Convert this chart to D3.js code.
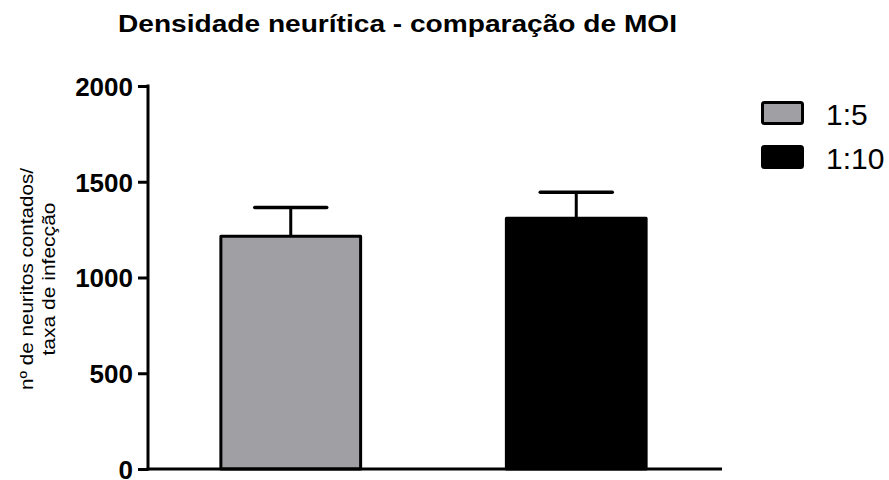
<!DOCTYPE html>
<html>
<head>
<meta charset="utf-8">
<script src="https://cdn.jsdelivr.net/npm/d3@7/dist/d3.min.js"></script>
<style>
  html, body { margin: 0; padding: 0; background: #fff; }
  svg { display: block; font-family: "Liberation Sans", Arial, sans-serif; }
</style>
</head>
<body>
<svg id="chart" width="889" height="480"></svg>
<script>
// Data: neurite density per MOI group (mean and SEM)
const groups = ["1:5", "1:10"];
const means = [1215, 1310];
const errors = [150, 135];
const fills = ["#a09fa4", "#000000"];
const yTicks = [0, 500, 1000, 1500, 2000];

const svg = d3.select("#chart");

const x = d3.scaleBand()
  .domain(groups)
  .range([148, 719])
  .paddingInner(0.5)
  .paddingOuter(0.25);

const y = d3.scaleLinear()
  .domain([0, 2000])
  .range([469, 86]);

// Title
svg.append("text")
  .attr("x", 118)
  .attr("y", 32)
  .attr("font-size", 23)
  .attr("font-weight", "bold")
  .attr("textLength", 559)
  .attr("lengthAdjust", "spacingAndGlyphs")
  .text("Densidade neurítica - comparação de MOI");

// Error bars (drawn first so the bar outline covers the stem base)
const eb = svg.append("g");
groups.forEach((g, i) => {
  const cx = x(g) + x.bandwidth() / 2;
  eb.append("line")
    .attr("x1", cx).attr("x2", cx)
    .attr("y1", y(means[i])).attr("y2", y(means[i] + errors[i]))
    .attr("stroke", "#000").attr("stroke-width", 3);
  eb.append("line")
    .attr("x1", cx - 36).attr("x2", cx + 36)
    .attr("y1", y(means[i] + errors[i])).attr("y2", y(means[i] + errors[i]))
    .attr("stroke", "#000").attr("stroke-width", 3.5)
    .attr("stroke-linecap", "round");
});

// Bars
svg.append("g").selectAll("rect")
  .data(groups)
  .join("rect")
  .attr("x", (d) => x(d) + 1.5)
  .attr("y", (d, i) => y(means[i]))
  .attr("width", x.bandwidth() - 3)
  .attr("height", (d, i) => y(0) - y(means[i]))
  .attr("fill", (d, i) => fills[i])
  .attr("stroke", "#000")
  .attr("stroke-width", 3)
  .attr("stroke-linejoin", "round");

// Y axis
const yAxis = d3.axisLeft(y)
  .tickValues(yTicks)
  .tickSize(10)
  .tickPadding(5)
  .tickFormat(d3.format("d"));

const ya = svg.append("g")
  .attr("transform", "translate(148,0)")
  .call(yAxis);
ya.select(".domain").remove();
ya.append("line")
  .attr("x1", 0).attr("x2", 0)
  .attr("y1", y(2000) - 1.5).attr("y2", y(0) + 1.5)
  .attr("stroke", "#000").attr("stroke-width", 3);
ya.selectAll(".tick line").attr("stroke", "#000").attr("stroke-width", 3);
ya.selectAll(".tick text")
  .attr("fill", "#000")
  .attr("font-size", 26)
  .attr("font-weight", "bold")
  .attr("font-family", "Liberation Sans, Arial, sans-serif")
  .attr("dy", "0.36em");

// X axis baseline
svg.append("line")
  .attr("x1", 146.5).attr("x2", 722)
  .attr("y1", y(0)).attr("y2", y(0))
  .attr("stroke", "#000").attr("stroke-width", 3);

// Y axis title (two lines)
const yt = svg.append("text")
  .attr("transform", "translate(0,279) rotate(-90)")
  .attr("text-anchor", "middle")
  .attr("font-size", 19);
yt.append("tspan").attr("x", 0).attr("y", 33)
  .attr("textLength", 222).attr("lengthAdjust", "spacingAndGlyphs")
  .text("nº de neuritos contados/");
yt.append("tspan").attr("x", 0).attr("y", 55)
  .attr("textLength", 153).attr("lengthAdjust", "spacingAndGlyphs")
  .text("taxa de infecção");

// Legend
const legend = svg.append("g");
groups.forEach((g, i) => {
  const ly = 113 + i * 44;
  legend.append("rect")
    .attr("x", 762.5).attr("y", ly - 10.5)
    .attr("width", 40).attr("height", 21)
    .attr("rx", 2)
    .attr("fill", fills[i])
    .attr("stroke", "#000").attr("stroke-width", 3);
  legend.append("text")
    .attr("x", 826).attr("y", ly + 12)
    .attr("font-size", 30)
    .text(g);
});
</script>
</body>
</html>
